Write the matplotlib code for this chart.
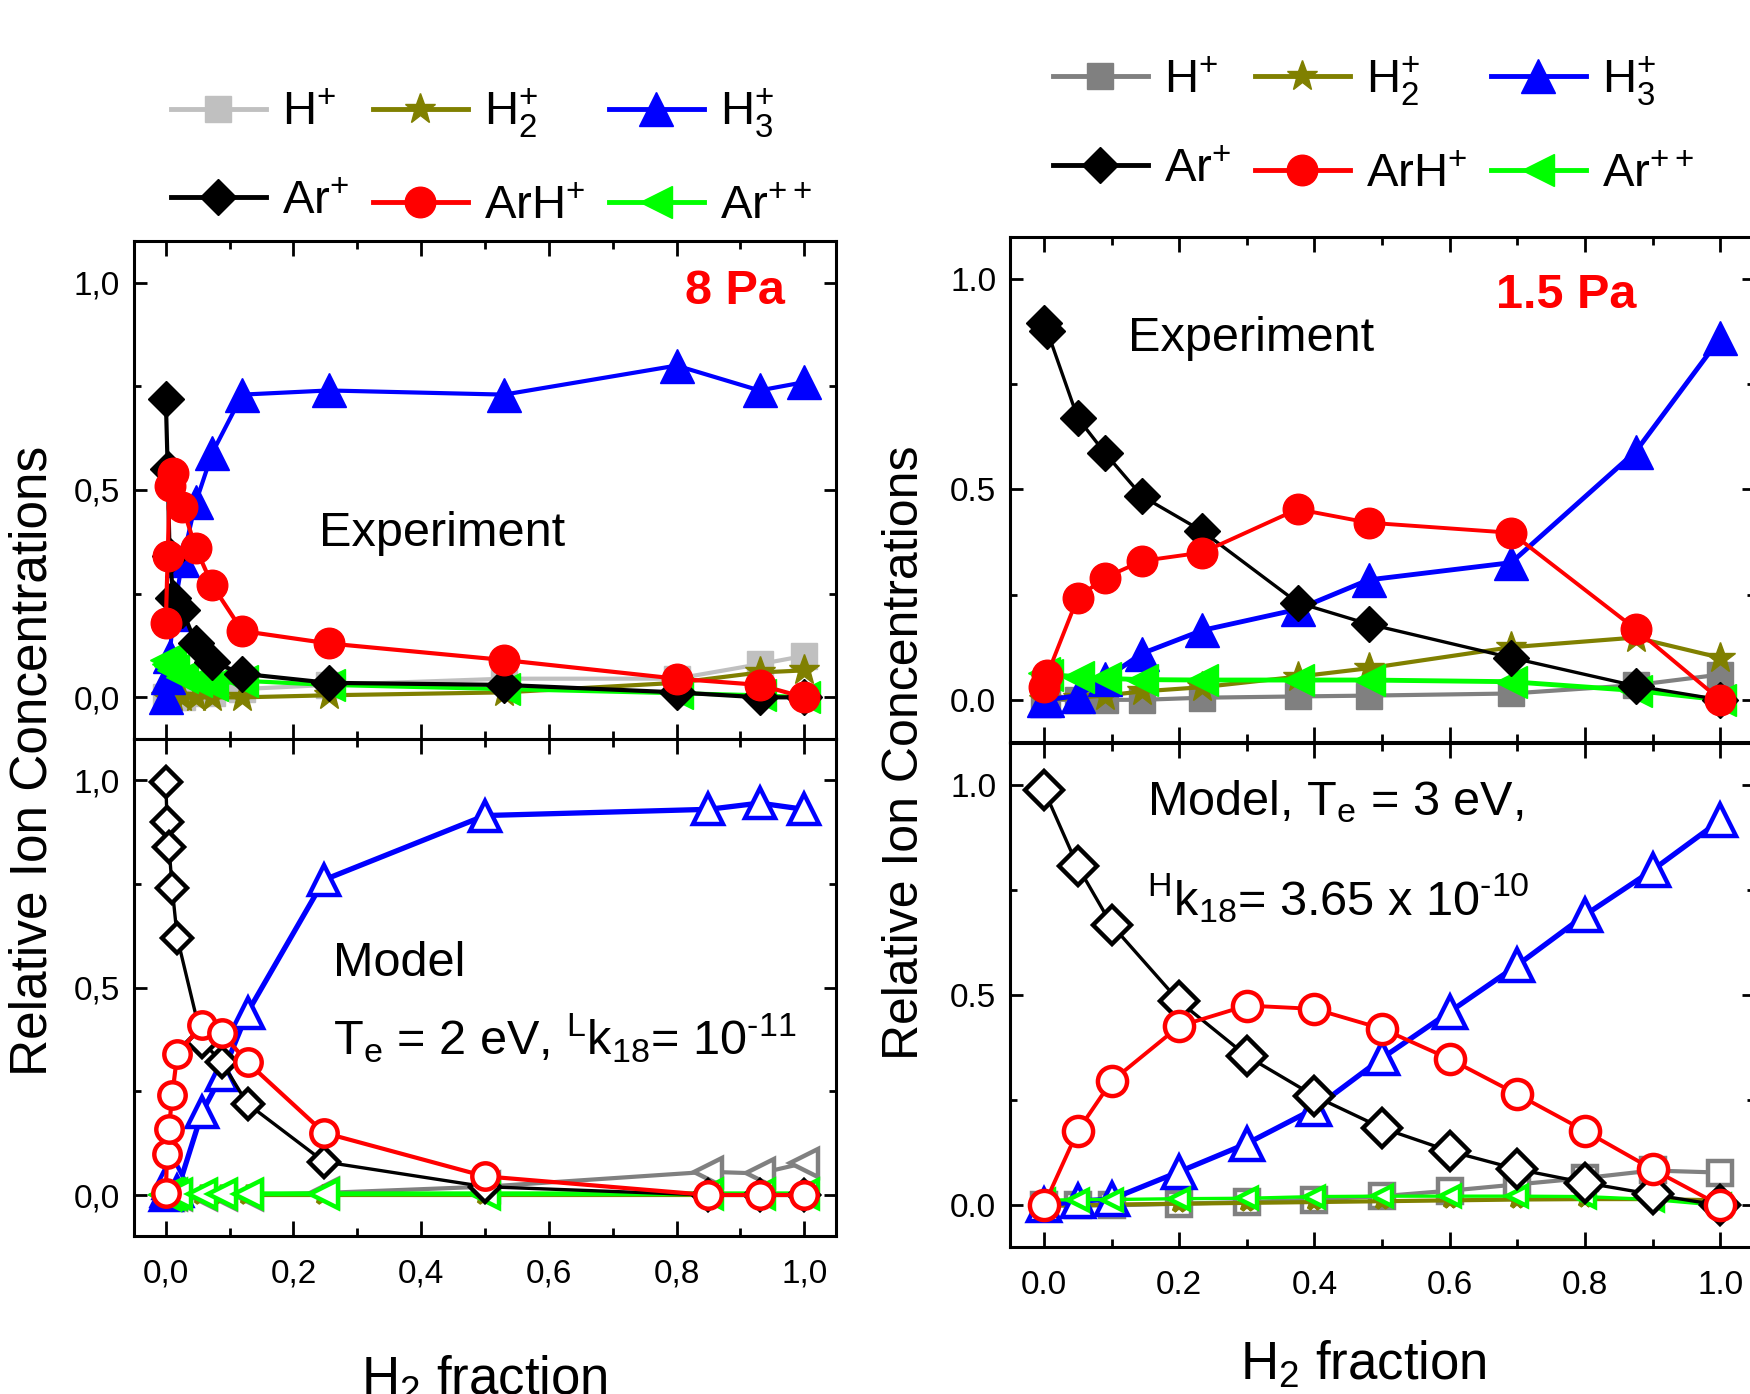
import matplotlib
matplotlib.use('Agg')
import matplotlib.pyplot as plt
from matplotlib.ticker import MultipleLocator, FuncFormatter
from matplotlib.lines import Line2D

FONT = 'Liberation Sans'
plt.rcParams['font.family'] = [FONT, 'DejaVu Sans']
plt.rcParams['mathtext.fontset'] = 'custom'
plt.rcParams['mathtext.rm'] = FONT
plt.rcParams['mathtext.it'] = FONT

# ---- data ----
# 8 Pa, experiment
x_exp8 = [0.0, 0.003, 0.006, 0.012, 0.026, 0.047, 0.073, 0.12, 0.255, 0.53, 0.8, 0.93, 1.0]
hp_exp8 = [0.0, 0.0, 0.0, 0.0, 0.0, 0.01, 0.01, 0.02, 0.03, 0.045, 0.045, 0.08, 0.10]
h2p_exp8 = [0.0, 0.0, 0.0, 0.0, 0.0, 0.0, 0.0, 0.0, 0.005, 0.012, 0.035, 0.06, 0.065]
h3p_exp8 = [0.0, 0.05, 0.10, 0.20, 0.33, 0.47, 0.59, 0.73, 0.74, 0.73, 0.80, 0.74, 0.76]
arp_exp8 = [0.72, 0.55, 0.34, 0.24, 0.21, 0.13, 0.085, 0.057, 0.035, 0.03, 0.012, 0.0, 0.0]
arhp_exp8 = [0.18, 0.34, 0.51, 0.54, 0.46, 0.36, 0.27, 0.16, 0.13, 0.09, 0.045, 0.03, 0.0]
arpp_exp8 = [0.09, 0.08, 0.075, 0.065, 0.05, 0.04, 0.03, 0.04, 0.03, 0.02, 0.01, 0.005, 0.0]

# model, Te = 2 eV
x_mod2 = [0.0, 0.002, 0.005, 0.01, 0.018, 0.057, 0.088, 0.128, 0.248, 0.5, 0.85, 0.93, 1.0]
hp_mod2 = [0.0, 0.0, 0.0, 0.0, 0.0, 0.0, 0.0, 0.0, 0.005, 0.02, 0.056, 0.052, 0.077]
h2p_mod2 = [0.0, 0.0, 0.0, 0.0, 0.0, 0.0, 0.0, 0.0, 0.0, 0.0, 0.0, 0.0, 0.0]
h3p_mod2 = [0.0, 0.01, 0.03, 0.06, 0.01, 0.20, 0.29, 0.44, 0.76, 0.915, 0.93, 0.945, 0.93]
arp_mod2 = [0.995, 0.90, 0.84, 0.74, 0.62, 0.37, 0.32, 0.22, 0.08, 0.02, 0.0, 0.0, 0.0]
arhp_mod2 = [0.006, 0.10, 0.16, 0.24, 0.34, 0.41, 0.39, 0.32, 0.15, 0.045, 0.0, 0.0, 0.0]
arpp_mod2 = [0.0, 0.002, 0.002, 0.003, 0.003, 0.003, 0.003, 0.003, 0.003, 0.003, 0.003, 0.003, 0.003]

# 1.5 Pa, experiment
x_exp15 = [0.0, 0.005, 0.05, 0.09, 0.145, 0.234, 0.375, 0.48, 0.691, 0.875, 1.0]
hp_exp15 = [0.0, 0.0, 0.0, 0.0, 0.0, 0.005, 0.008, 0.01, 0.015, 0.035, 0.06]
h2p_exp15 = [0.0, 0.0, 0.005, 0.01, 0.02, 0.03, 0.055, 0.075, 0.125, 0.148, 0.10]
h3p_exp15 = [0.0, 0.0, 0.01, 0.05, 0.11, 0.165, 0.215, 0.285, 0.326, 0.59, 0.86]
arp_exp15 = [0.896, 0.876, 0.670, 0.587, 0.484, 0.401, 0.231, 0.180, 0.100, 0.033, 0.0]
arhp_exp15 = [0.03, 0.06, 0.243, 0.29, 0.33, 0.35, 0.453, 0.421, 0.397, 0.168, 0.0]
arpp_exp15 = [0.063, 0.06, 0.055, 0.051, 0.048, 0.047, 0.047, 0.047, 0.043, 0.022, 0.0]

# model, Te = 3 eV
x_mod3 = [0.0, 0.05, 0.1, 0.2, 0.3, 0.4, 0.5, 0.6, 0.7, 0.8, 0.9, 1.0]
hp_mod3 = [0.0, 0.0, 0.0, 0.004, 0.008, 0.014, 0.022, 0.035, 0.05, 0.065, 0.083, 0.078]
h2p_mod3 = [0.0, 0.0, 0.002, 0.004, 0.006, 0.008, 0.01, 0.012, 0.014, 0.015, 0.015, 0.012]
h3p_mod3 = [0.0, 0.01, 0.015, 0.08, 0.147, 0.23, 0.35, 0.46, 0.571, 0.69, 0.797, 0.915]
arp_mod3 = [0.988, 0.806, 0.667, 0.485, 0.355, 0.26, 0.184, 0.129, 0.086, 0.054, 0.026, 0.0]
arhp_mod3 = [0.0, 0.177, 0.295, 0.426, 0.475, 0.467, 0.420, 0.348, 0.264, 0.177, 0.086, 0.0]
arpp_mod3 = [0.012, 0.014, 0.014, 0.016, 0.017, 0.021, 0.022, 0.022, 0.022, 0.021, 0.014, 0.0]

labels = ['H$^\\mathregular{+}$', 'H$_\\mathregular{2}^\\mathregular{+}$', 'H$_\\mathregular{3}^\\mathregular{+}$',
          'Ar$^\\mathregular{+}$', 'ArH$^\\mathregular{+}$', 'Ar$^\\mathregular{++}$']

# styles (color, marker, size) in order H+, H2+, H3+, Ar+, ArH+, Ar++
OLIVE = '#808000'
GREEN = '#00ff00'
exp_styles_left = [('#c0c0c0', 's', 19), (OLIVE, '*', 23), ('blue', '^', 24),
                   ('black', 'D', 18), ('red', 'o', 22), (GREEN, '<', 23)]
exp_styles_right = [('#808080', 's', 19), (OLIVE, '*', 23), ('blue', '^', 24),
                    ('black', 'D', 18), ('red', 'o', 22), (GREEN, '<', 23)]
mod_styles_left = [('#808080', '<', 20), (OLIVE, '*', 14), ('blue', '^', 21),
                   ('black', 'D', 15), ('red', 'o', 19), (GREEN, '<', 20)]
mod_styles_right = [('#808080', 's', 17), (OLIVE, '*', 12), ('blue', '^', 23),
                    ('black', 'D', 19), ('red', 'o', 21), (GREEN, '<', 15)]
draw_order = [0, 1, 2, 5, 3, 4]

TXT = 35


def draw(ax, x, series, styles, filled, lws):
    for i in draw_order:
        c, m, ms = styles[i]
        if filled:
            ax.plot(x, series[i], color=c, lw=lws[i], marker=m, ms=ms, mfc=c, mec=c, mew=1)
        else:
            ax.plot(x, series[i], color=c, lw=lws[i], marker=m, ms=ms, mfc='white', mec=c, mew=3.2)


def style_axes(ax, comma, xlabels):
    ax.set_xlim(-0.05, 1.05)
    ax.set_ylim(-0.1, 1.1)
    ax.xaxis.set_major_locator(MultipleLocator(0.2))
    ax.xaxis.set_minor_locator(MultipleLocator(0.1))
    ax.yaxis.set_major_locator(MultipleLocator(0.5))
    ax.yaxis.set_minor_locator(MultipleLocator(0.25))
    if comma:
        fmt = FuncFormatter(lambda v, p: f'{v:.1f}'.replace('.', ','))
    else:
        fmt = FuncFormatter(lambda v, p: f'{v:.1f}')
    ax.xaxis.set_major_formatter(fmt)
    ax.yaxis.set_major_formatter(fmt)
    ax.tick_params(which='both', direction='in', top=True, right=True, width=2, labelsize=24)
    ax.tick_params(axis='x', which='major', length=11, pad=16)
    ax.tick_params(axis='x', which='minor', length=5.5)
    ax.tick_params(axis='y', which='major', length=9, pad=10)
    ax.tick_params(axis='y', which='minor', length=5)
    if not xlabels:
        ax.tick_params(axis='x', labelbottom=False)
    for s in ax.spines.values():
        s.set_linewidth(2.2)


fig = plt.figure(figsize=(17.5, 13.94), dpi=100)
ax_lt = fig.add_axes([0.0765, 0.470, 0.4013, 0.357])
ax_lb = fig.add_axes([0.0765, 0.113, 0.4013, 0.357])
ax_rt = fig.add_axes([0.5772, 0.4678, 0.4251, 0.3622])
ax_rb = fig.add_axes([0.5772, 0.1051, 0.4251, 0.3622])

draw(ax_lt, x_exp8, [hp_exp8, h2p_exp8, h3p_exp8, arp_exp8, arhp_exp8, arpp_exp8],
     exp_styles_left, True, [3, 3, 3, 3, 3, 3])
draw(ax_lb, x_mod2, [hp_mod2, h2p_mod2, h3p_mod2, arp_mod2, arhp_mod2, arpp_mod2],
     mod_styles_left, False, [3, 3, 3.8, 2.4, 3, 3.5])
draw(ax_rt, x_exp15, [hp_exp15, h2p_exp15, h3p_exp15, arp_exp15, arhp_exp15, arpp_exp15],
     exp_styles_right, True, [3, 3, 3.5, 2.4, 2.8, 3.5])
draw(ax_rb, x_mod3, [hp_mod3, h2p_mod3, h3p_mod3, arp_mod3, arhp_mod3, arpp_mod3],
     mod_styles_right, False, [3, 3, 3.8, 2.4, 2.8, 2.4])

style_axes(ax_lt, True, False)
style_axes(ax_lb, True, True)
style_axes(ax_rt, False, False)
style_axes(ax_rb, False, True)

# panel annotations
HY = '\u2010'
ax_lt.text(0.892, 0.978, '8 Pa', color='red', fontsize=TXT, fontweight='bold', ha='center', va='center')
ax_lt.text(0.24, 0.366, 'Experiment', fontsize=TXT, va='baseline')
ax_lb.text(0.262, 0.527, 'Model', fontsize=TXT, va='baseline')
ax_lb.text(0.262, 0.338, 'T$_\\mathregular{e}$ = 2 eV, $^\\mathregular{L}$k$_\\mathregular{18}$= 10$^\\mathregular{' + HY + '11}$',
           fontsize=TXT, va='baseline')
ax_rt.text(0.772, 0.96, '1.5 Pa', color='red', fontsize=TXT, fontweight='bold', ha='center', va='center')
ax_rt.text(0.125, 0.828, 'Experiment', fontsize=TXT, va='baseline')
ax_rb.text(0.153, 0.928, 'Model, T$_\\mathregular{e}$ = 3 eV,', fontsize=TXT, va='baseline')
ax_rb.text(0.153, 0.69, '$^\\mathregular{H}$k$_\\mathregular{18}$= 3.65 x 10$^\\mathregular{' + HY + '10}$',
           fontsize=TXT, va='baseline')

# axis titles
fig.text(0.019, 0.454, 'Relative Ion Concentrations', rotation=90, fontsize=37, ha='center', va='center')
fig.text(0.517, 0.460, 'Relative Ion Concentrations', rotation=90, fontsize=36, ha='center', va='center')
fig.text(0.277, 0.0287, 'H$_\\mathregular{2}$ fraction', fontsize=38, ha='center', va='top')
fig.text(0.779, 0.010, 'H$_\\mathregular{2}$ fraction', fontsize=38, ha='center', va='baseline')


def legend_handles(styles):
    hs = []
    for c, m, ms in styles:
        hs.append(Line2D([], [], color=c, lw=3.5, marker=m, ms=ms, mfc=c, mec=c))
    return hs


def add_legend(styles, cx, cy):
    hs = legend_handles(styles)
    order = [0, 3, 1, 4, 2, 5]
    fig.legend([hs[i] for i in order], [labels[i] for i in order], ncol=3, loc='center',
               bbox_to_anchor=(cx, cy), frameon=False, fontsize=34, handlelength=2.0,
               handletextpad=0.35, columnspacing=0.5, labelspacing=0.95, borderpad=0)


add_legend(exp_styles_left, 0.281, 0.887)
add_legend(exp_styles_right, 0.785, 0.910)

fig.savefig('out.png', dpi=100)
